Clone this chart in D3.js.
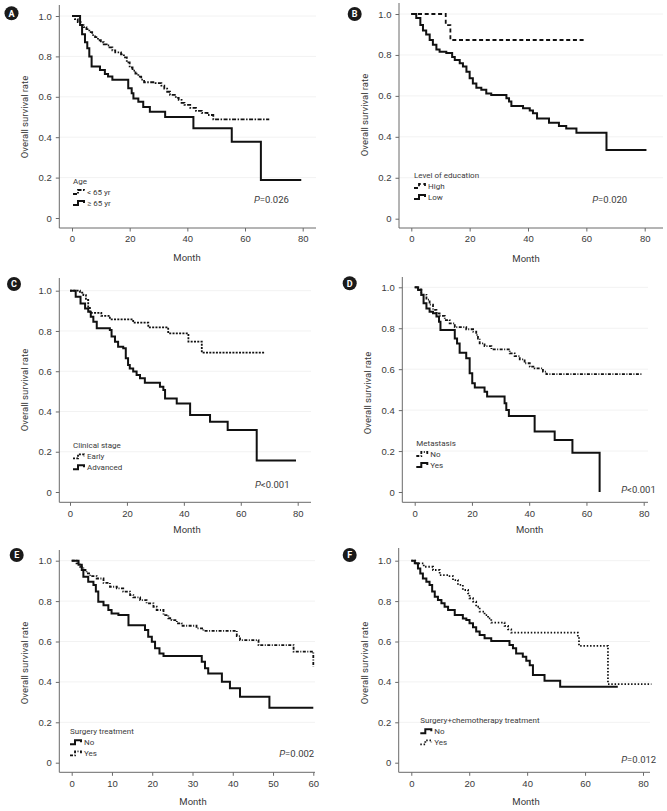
<!DOCTYPE html>
<html><head><meta charset="utf-8">
<script src="https://cdn.jsdelivr.net/npm/d3@7"></script>
<style>
body{margin:0;background:#fff;}
svg{display:block;font-family:Roboto,"Liberation Sans",Arial,sans-serif;}
</style></head>
<body>
<svg id="c" width="667" height="811"></svg>
<script>
// ---------- DATA ----------
const yTicks = [0,0.2,0.4,0.6,0.8,1.0];
const xTicks80 = [0,20,40,60,80];
const xTicks60 = [0,10,20,30,40,50,60];

// A: Age
const tA_young = [0,1,2,3,4,5,6,7,8,9,10,11,12,13,14,15,17,18,19,20,21,22,23,24,25,29,31,32,33,34,36,37,38,39,41,43,45,47,49,68.4];
const sA_young = [1,0.985,0.97,0.955,0.945,0.935,0.92,0.905,0.895,0.88,0.87,0.86,0.855,0.845,0.83,0.82,0.81,0.795,0.77,0.745,0.73,0.715,0.70,0.685,0.672,0.668,0.655,0.64,0.625,0.61,0.595,0.585,0.57,0.56,0.545,0.53,0.52,0.51,0.488,0.488];
const tA_old = [0,2.8,3.5,4.5,5.3,6,6.8,9.7,11.4,12.5,14,19.5,20.7,21.3,23,24.7,27,32.3,42.1,55.4,65.5,79.5];
const sA_old = [1,0.955,0.91,0.87,0.84,0.8,0.75,0.733,0.713,0.7,0.685,0.642,0.617,0.592,0.576,0.55,0.526,0.5,0.444,0.378,0.188,0.188];

// B: Level of education
const tB_high = [0,11.8,13.4,59.8];
const sB_high = [1,0.946,0.873,0.873];
const tB_low = [0,1.7,3.1,4,5.1,6.3,7.4,8.6,9.7,12,14,14.9,16.6,17.7,18.9,20,21.1,22.3,24,25.7,27.4,32.6,33.5,34.3,38.3,40.6,41.7,43.1,47.2,50.6,53.1,56.6,66.9,80.6];
const sB_low = [1,0.98,0.946,0.92,0.9,0.873,0.85,0.827,0.815,0.81,0.79,0.775,0.76,0.743,0.718,0.686,0.66,0.64,0.63,0.612,0.604,0.588,0.572,0.55,0.54,0.528,0.515,0.49,0.469,0.453,0.441,0.42,0.336,0.336];

// C: Clinical stage
const tC_early = [0,3.5,4.7,5.6,6.4,7,11,14,22.2,27.5,34.5,41.6,46.3,68.5];
const sC_early = [1,0.99,0.978,0.954,0.92,0.89,0.875,0.858,0.841,0.818,0.788,0.747,0.692,0.692];
const tC_adv = [0,2,3.7,5.3,6.4,7.3,8.2,9.4,14,14.6,15.8,16.9,18.7,19.6,20.4,21,22.2,23.4,24.6,26.3,31.6,32.8,33.4,37.5,42.2,49.2,55.4,65.6,79.4];
const sC_adv = [1,0.97,0.937,0.912,0.896,0.87,0.846,0.813,0.805,0.772,0.747,0.722,0.714,0.664,0.631,0.614,0.598,0.581,0.565,0.543,0.523,0.507,0.465,0.44,0.382,0.349,0.308,0.156,0.156];

// D: Metastasis
const tD_no = [0,1.2,2.3,4.1,5.2,6.4,7.6,8.7,10.5,12.2,14,18,20.4,21.5,22.1,22.7,24.4,26.8,33.2,34.9,36.7,38.4,40.2,41.9,44.8,46,79.2];
const sD_no = [1,0.99,0.963,0.94,0.915,0.89,0.873,0.86,0.84,0.824,0.805,0.795,0.783,0.767,0.75,0.726,0.713,0.697,0.677,0.664,0.648,0.629,0.612,0.604,0.588,0.576,0.576];
const tD_yes = [0,1.2,2.3,3.1,4.1,5.2,6.4,7.6,8.5,9,14,14.8,15.7,18,19.2,20.1,21,24.4,25.3,31.4,32,32.9,41.9,48.9,55.1,64.6];
const sD_yes = [1,0.987,0.963,0.922,0.897,0.881,0.873,0.857,0.832,0.792,0.75,0.726,0.68,0.653,0.58,0.531,0.511,0.49,0.466,0.433,0.4,0.371,0.295,0.254,0.192,0];

// E: Surgery treatment
const tE_no = [0,1.7,2.5,2.9,4.1,5.4,6,6.6,7.9,9.1,9.9,11.6,14.1,18.2,19,19.9,20.7,21.8,22.8,32.3,33.1,33.9,37.3,39.3,41.8,49.1,60];
const sE_no = [1,0.98,0.954,0.92,0.896,0.88,0.847,0.797,0.78,0.756,0.739,0.731,0.68,0.657,0.624,0.599,0.566,0.541,0.528,0.5,0.467,0.442,0.401,0.368,0.327,0.272,0.272];
const tE_yes = [0,1.2,2.1,2.9,3.7,4.6,6.2,7.9,9.5,11.2,12.8,14.5,15.3,17,18.6,20.3,21.1,22.8,24,24.8,26.1,27.3,31,32.7,41,41.8,46.4,55.1,60];
const sE_yes = [1,0.987,0.97,0.954,0.937,0.924,0.912,0.89,0.871,0.863,0.847,0.83,0.818,0.805,0.789,0.772,0.756,0.731,0.715,0.706,0.69,0.678,0.665,0.653,0.627,0.607,0.582,0.55,0.475];

// F: Surgery+chemotherapy treatment
const tF_no = [0,1.2,2.3,3.1,4,5.2,6.3,7.2,8.1,9.2,10.4,11.5,12.7,15,17.8,19,20.1,21.3,22.4,23.6,25.3,27.6,33.9,35.1,36.2,38.5,39.7,40.9,42,46,51.4,71.3];
const sF_no = [1,0.987,0.962,0.937,0.912,0.896,0.88,0.847,0.822,0.805,0.789,0.772,0.756,0.731,0.714,0.706,0.69,0.67,0.649,0.632,0.616,0.602,0.583,0.566,0.541,0.525,0.505,0.483,0.434,0.406,0.376,0.376];
const tF_yes = [0,1.7,4.3,7.5,9.8,12.7,14.4,16.1,17.8,19.6,20.1,21.3,22.4,23.6,25.3,26.5,27.6,32.2,33.4,34.5,57.5,57.9,67.9,82.9];
const sF_yes = [1,0.987,0.97,0.954,0.929,0.924,0.904,0.88,0.855,0.838,0.814,0.797,0.772,0.748,0.731,0.714,0.693,0.677,0.66,0.644,0.624,0.578,0.389,0.389];

// ---------- PANELS (layout + styles) ----------
const panels = [
 {id:"A", axX:59.3, axY:228, top:5, right:316, xr:[72,302.7], yr:[218,16], xDom:[0,80], xt:xTicks80,
  badge:[11.5,13.3], yTitle:[25,117], month:[187,260.5], legend:[73,184], legTitle:"Age",
  series:[{t:tA_young,s:sA_young,lab:"< 65 yr",dash:"4,1.5,1.5,1.5"},{t:tA_old,s:sA_old,lab:"\u2265 65 yr",dash:null}],
  p:[254,203], pText:["=0.026"]},
 {id:"B", axX:399, axY:228, top:3, right:663, xr:[411.3,644.7], yr:[218.7,14], xDom:[0,80], xt:xTicks80,
  badge:[354.7,14], yTitle:[364.7,115], month:[526,261.5], legend:[414,178], legTitle:"Level of education",
  series:[{t:tB_high,s:sB_high,lab:"High",dash:"4,2.7"},{t:tB_low,s:sB_low,lab:"Low",dash:null}],
  p:[592.3,203.3], pText:["=0.020"]},
 {id:"C", axX:59.3, axY:502.3, top:278, right:311, xr:[70,297.7], yr:[492,290.7], xDom:[0,80], xt:xTicks80,
  badge:[14,284], yTitle:[25,390], month:[187,533], legend:[73,448.3], legTitle:"Clinical stage",
  series:[{t:tC_early,s:sC_early,lab:"Early",dash:"2,1.3"},{t:tC_adv,s:sC_adv,lab:"Advanced",dash:null}],
  p:[255,488.3], pText:["<0.001"]},
 {id:"D", axX:402.3, axY:502.3, top:277, right:648, xr:[414.7,643.7], yr:[492,287.3], xDom:[0,80], xt:xTicks80,
  badge:[349.7,283.3], yTitle:[368,393], month:[529.7,533], legend:[416.3,446], legTitle:"Metastasis",
  series:[{t:tD_no,s:sD_no,lab:"No",dash:"3,1.5,1,1.5"},{t:tD_yes,s:sD_yes,lab:"Yes",dash:null}],
  p:[621.3,492.7], pText:["<0.001"]},
 {id:"E", axX:59.3, axY:772.3, top:550, right:315, xr:[71.7,313.3], yr:[762.7,560.7], xDom:[0,60], xt:xTicks60,
  badge:[16.7,555], yTitle:[25,663], month:[193,805], legend:[70,734.3], legTitle:"Surgery treatment",
  series:[{t:tE_no,s:sE_no,lab:"No",dash:null},{t:tE_yes,s:sE_yes,lab:"Yes",dash:"3,1.5,1,1.5"}],
  p:[279.3,756.7], pText:["=0.002"]},
 {id:"F", axX:398.7, axY:772.3, top:548, right:650, xr:[411.3,643], yr:[762.7,560.7], xDom:[0,80], xt:xTicks80,
  badge:[349.7,555], yTitle:[364.7,663], month:[526,805], legend:[420.3,723.3], legTitle:"Surgery+chemotherapy treatment",
  series:[{t:tF_no,s:sF_no,lab:"No",dash:null},{t:tF_yes,s:sF_yes,lab:"Yes",dash:"1.5,1.8"}],
  p:[621.3,762.7], pText:["=0.012"]}
];

const svg = d3.select("#c");
const axisCol = "#6a6a6a", textCol = "#3a3a3a";

panels.forEach(P => {
  const g = svg.append("g");
  const x = d3.scaleLinear().domain(P.xDom).range(P.xr);
  const y = d3.scaleLinear().domain([0,1]).range(P.yr);

  // faint gridlines
  g.selectAll("line.grid").data(yTicks.filter(d=>d>0)).join("line")
    .attr("x1",P.axX).attr("x2",P.right).attr("y1",d=>y(d)).attr("y2",d=>y(d))
    .attr("stroke","#f2f2f2").attr("stroke-width",1);

  // Y axis
  const ya = g.append("g").attr("transform",`translate(${P.axX},0)`)
    .call(d3.axisLeft(y).tickValues(yTicks).tickSize(3.5).tickPadding(4)
      .tickFormat(d=> d===0 ? "0" : d3.format(".1f")(d)));
  ya.select(".domain").remove();
  ya.selectAll("line").attr("stroke",axisCol);
  ya.selectAll("text").attr("fill",textCol).style("font-size","9.5px");
  g.append("line").attr("x1",P.axX).attr("x2",P.axX).attr("y1",P.top).attr("y2",P.axY)
    .attr("stroke",axisCol).attr("stroke-width",1);

  // X axis
  const xa = g.append("g").attr("transform",`translate(0,${P.axY})`)
    .call(d3.axisBottom(x).tickValues(P.xt).tickSize(3.5).tickPadding(4));
  xa.select(".domain").remove();
  xa.selectAll("line").attr("stroke",axisCol);
  xa.selectAll("text").attr("fill",textCol).style("font-size","9.5px");
  g.append("line").attr("x1",P.axX).attr("x2",P.right).attr("y1",P.axY).attr("y2",P.axY)
    .attr("stroke",axisCol).attr("stroke-width",1);

  // Axis titles
  g.append("text").attr("x",P.month[0]).attr("y",P.month[1]).attr("text-anchor","middle")
    .attr("fill",textCol).style("font-size","9.5px").text("Month");
  g.append("text").attr("transform",`translate(${P.yTitle[0]},${P.yTitle[1]}) rotate(-90)`)
    .attr("text-anchor","middle").attr("dy","0.35em").attr("fill",textCol)
    .style("font-size","9.5px").text("Overall survival rate");

  // Badge
  g.append("circle").attr("cx",P.badge[0]).attr("cy",P.badge[1]).attr("r",7).attr("fill","#1a1a1a");
  g.append("text").attr("x",P.badge[0]).attr("y",P.badge[1]).attr("dy","0.36em").attr("text-anchor","middle")
    .attr("fill","#fff").style("font-size","9px").style("font-weight","bold").text(P.id);

  // Curves
  const line = d3.line().x(d=>x(d[0])).y(d=>y(d[1])).curve(d3.curveStepAfter);
  P.series.forEach(S => {
    const pts = S.t.map((t,i)=>[t,S.s[i]]);
    g.append("path").datum(pts).attr("d",line).attr("fill","none")
      .attr("stroke","#111").attr("stroke-width", S.dash ? 1.8 : 2)
      .attr("stroke-dasharray", S.dash || null).attr("stroke-linejoin","miter");
  });

  // Legend
  const lx = P.legend[0], ly = P.legend[1];
  g.append("text").attr("x",lx).attr("y",ly).attr("fill",textCol).style("font-size","8px").text(P.legTitle);
  P.series.forEach((S,i) => {
    const by = ly + 11 + i*11;
    g.append("path").attr("d",`M${lx},${by-1} h5 v-4 h6 v2`).attr("fill","none")
      .attr("stroke","#111").attr("stroke-width",S.dash?1.8:2).attr("stroke-dasharray",S.dash||null);
    g.append("text").attr("x",lx+14).attr("y",by).attr("fill",textCol).style("font-size","8px").text(S.lab);
  });

  // P value
  const pt = g.append("text").attr("x",P.p[0]).attr("y",P.p[1]).attr("fill",textCol).style("font-size","9.5px");
  pt.append("tspan").style("font-style","italic").text("P");
  pt.append("tspan").text(P.pText[0]);
});
</script>
</body></html>
